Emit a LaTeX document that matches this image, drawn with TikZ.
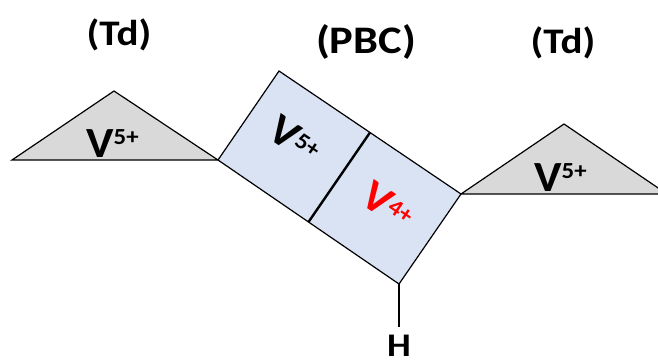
\documentclass[tikz,border=0pt]{standalone}
\usepackage{fontspec}
\usepackage{graphicx}
\usetikzlibrary{calc}
\setmainfont{Carlito}
\definecolor{trigray}{HTML}{D9D9D9}
\definecolor{rectblue}{HTML}{DAE3F3}
\newcommand{\ionlab}[1]{\scalebox{1.08}[1]{\bfseries\fontsize{43}{43}\selectfont V\raisebox{13pt}{\fontsize{23}{23}\selectfont #1}}}
\newcommand{\rotlab}[1]{\scalebox{1.08}[1]{\bfseries\fontsize{43}{43}\selectfont V\raisebox{9pt}{\fontsize{23}{23}\selectfont #1}}}
\newcommand{\toplab}[2]{\scalebox{1.14}[1]{\bfseries\fontsize{#1}{#1}\selectfont #2}}
\begin{document}
\begin{tikzpicture}[x=1pt,y=-1pt,
  tri/.style={fill=trigray,draw=black,line width=1.2pt,line join=miter},
  rectface/.style={fill=rectblue,draw=black,line width=1.2pt},
  divider/.style={draw=black,line width=2.4pt},
  hbond/.style={draw=black,line width=2pt},
  lab/.style={inner sep=0pt,anchor=base}]
\useasboundingbox (0,0) rectangle (658,361);
\clip (0,0) rectangle (658,361);
% rectangle corners
\coordinate (A) at (279,71);
\coordinate (B) at (461,194);
\coordinate (C) at (399,284);
\coordinate (D) at (218,160);
\coordinate (M1) at ($(A)!0.5!(B)$);
\coordinate (M2) at ($(D)!0.5!(C)$);
\coordinate (Hend) at (399,327);
% triangles
\path[tri] (12,160) -- (114,91) -- (D) -- cycle;
\path[tri] (B) -- (564,124) -- (667,194) -- cycle;
% rectangle
\path[rectface] (A) -- (B) -- (C) -- (D) -- cycle;
\draw[divider] (M1) -- (M2);
\draw[hbond] (C) -- (Hend);
% labels
\node[lab] (td1) at (119,46) {\toplab{36}{(Td)}};
\node[lab] (pbc) at (366,53) {\toplab{39}{(PBC)}};
\node[lab] (td2) at (563,53) {\toplab{36}{(Td)}};
\node[lab] (h) at (399,356) {\toplab{33}{H}};
\node[inner sep=0pt,anchor=base west] (v1) at (86,157) {\ionlab{5+}};
\node[inner sep=0pt,anchor=base west] (v2) at (534,191) {\ionlab{5+}};
\node[inner sep=0pt,rotate=-34] (v3) at (295,140) {\rotlab{5+}};
\node[inner sep=0pt,rotate=-34,text=red] (v4) at (388,206) {\rotlab{4+}};
\end{tikzpicture}
\end{document}
